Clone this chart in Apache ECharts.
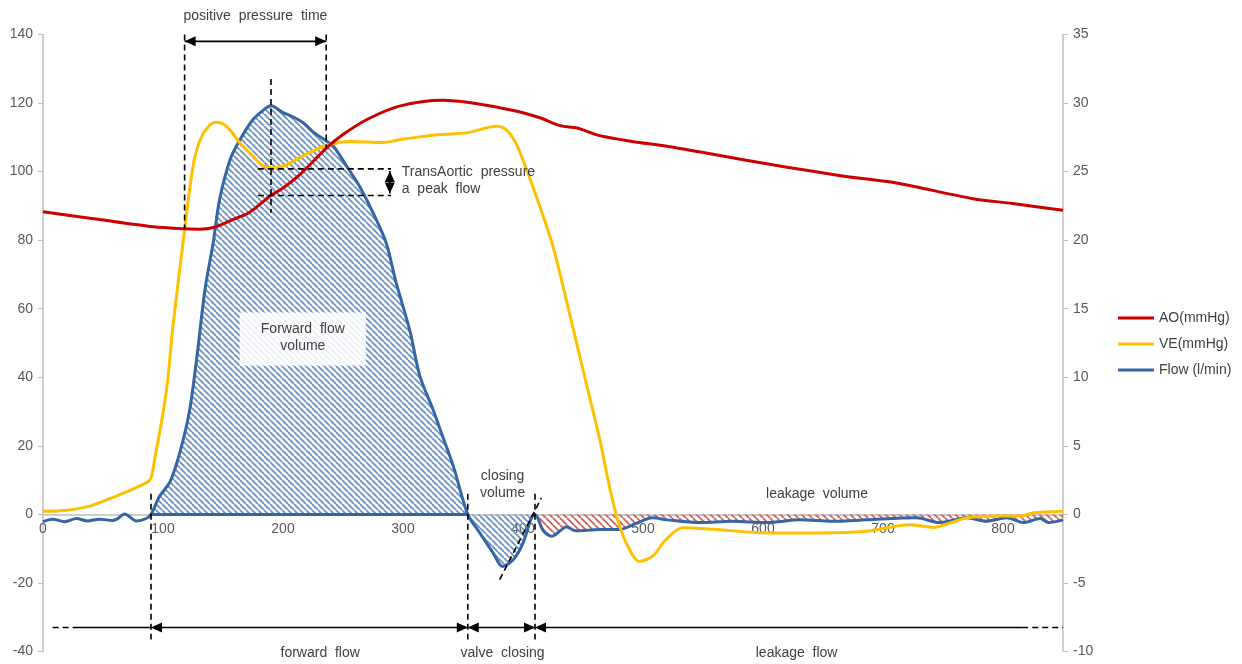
<!DOCTYPE html>
<html>
<head>
<meta charset="utf-8">
<script src="https://cdn.jsdelivr.net/npm/echarts@6/dist/echarts.min.js"></script>
<style>
  html, body { margin: 0; padding: 0; background: #fff; }
  #chart { width: 1242px; height: 664px; }
</style>
</head>
<body>
<div id="chart"></div>
<script>
// Aortic pressure (mmHg) over one cardiac cycle, time in ms
const aoTime = [0, 47, 89, 114, 118, 130, 142, 158, 172, 189, 200, 214, 236, 250, 270, 297, 333, 358, 395, 414, 431, 445, 464, 491, 520, 564, 608, 669, 711, 775, 808, 850];
const aoValues = [88.3, 86, 84, 83.4, 83.3, 83.2, 83.7, 86, 88.1, 92.8, 95.2, 99.1, 106.8, 110.8, 115.2, 119.1, 120.8, 120, 117.6, 115.7, 113.4, 112.7, 110.5, 108.8, 107.4, 104.7, 102, 98.6, 96.7, 92.1, 90.7, 88.7];

// Ventricular pressure (mmHg)
const veTime = [0, 20, 39, 47, 61, 86, 90, 93, 100, 104, 108, 118, 125, 131, 138, 144, 153, 164, 175, 183, 192, 203, 219, 236, 256, 283, 297, 331, 353, 378, 386, 394, 403, 414, 425, 436, 442, 456, 464, 472, 478, 486, 497, 508, 519, 533, 561, 603, 647, 686, 722, 742, 756, 770, 797, 814, 825, 850];
const veValues = [0.9, 1.2, 2.4, 3.4, 5.3, 9.2, 10.6, 16, 29.6, 39.3, 54, 83, 101.5, 109.3, 113.2, 114.4, 113.2, 108.4, 104.5, 101.8, 101.1, 102, 105, 107.6, 108.8, 108.5, 109.3, 110.8, 111.3, 113.2, 112.2, 108.4, 100.6, 89.9, 78.2, 62.7, 53.9, 33.5, 21.8, 8.2, -0.5, -8.3, -13.7, -12.2, -7.4, -3.9, -4.4, -5.4, -5.4, -4.9, -3, -3.8, -2.5, -1, -0.5, -0.5, 0.4, 0.9];

// Flow through the valve (l/min)
const flowTime = [0, 8, 18, 28, 37, 47, 58, 62, 68, 78, 86, 90, 97, 106, 114, 122, 128, 135, 142, 147, 156, 164, 175, 186, 190, 200, 208, 217, 225, 235, 242, 253, 264, 275, 286, 294, 306, 314, 325, 333, 342, 354, 364, 375, 383, 392, 400, 407, 410, 417, 424, 431, 436, 444, 464, 481, 492, 508, 520, 547, 575, 603, 631, 658, 686, 728, 747, 770, 786, 803, 817, 831, 838, 850];
const flowValues = [-0.53, -0.35, -0.53, -0.3, -0.48, -0.35, -0.45, -0.33, 0.03, -0.48, -0.3, 0, 1.3, 2.4, 4.5, 7.5, 11.3, 16.4, 19.9, 22.9, 25.9, 27.3, 28.8, 29.65, 29.8, 29.3, 29.0, 28.55, 27.9, 27.3, 26.85, 25.4, 23.9, 22.0, 19.8, 17.0, 13.3, 10.1, 7.65, 5.7, 3.5, 0, -1.35, -2.8, -3.8, -3.3, -2.1, -0.25, 0, -1.2, -1.6, -1.2, -0.9, -1.2, -1.1, -1.1, -0.75, -0.25, -0.4, -0.6, -0.5, -0.6, -0.4, -0.5, -0.4, -0.25, -0.6, -0.25, -0.5, -0.25, -0.6, -0.3, -0.6, -0.4];

// Valve events (ms): opening, closing start, closing end
const valveEvents = [90, 354, 410];

const seriesNames = ['AO(mmHg)', 'VE(mmHg)', 'Flow (l/min)'];
const seriesColors = ['#cc0000', '#ffc000', '#3465a4'];

const pair = (xs, ys) => xs.map((x, i) => [x, ys[i]]);
const flowData = pair(flowTime, flowValues);
const forwardPart = flowData.filter(d => d[0] >= valveEvents[0] && d[0] <= valveEvents[2]);
const leakagePart = flowData.filter(d => d[0] >= valveEvents[2]);

function interp(xs, ys, x) {
  for (let i = 1; i < xs.length; i++) {
    if (x <= xs[i]) {
      const t = (x - xs[i - 1]) / (xs[i] - xs[i - 1]);
      return ys[i - 1] + t * (ys[i] - ys[i - 1]);
    }
  }
  return ys[ys.length - 1];
}

function hatch(color, size, width) {
  const c = document.createElement('canvas');
  c.width = size; c.height = size;
  const g = c.getContext('2d');
  g.strokeStyle = color;
  g.lineWidth = width;
  g.beginPath();
  for (let k = -1; k <= 1; k++) {
    g.moveTo(k * size, 0);
    g.lineTo(k * size + size, size);
  }
  g.stroke();
  return { image: c, repeat: 'repeat' };
}

const chart = echarts.init(document.getElementById('chart'), null, { renderer: 'canvas' });
const FONT = 'Liberation Sans, Arial, sans-serif';
const axisGray = '#bfbfbf';
const SMOOTH = 0.3;

// layout of the plotting area
const GRID = { left: 43, right: 179, top: 34.5, bottom: 12.5 };
const Y_MIN = -40, Y_MAX = 140;
const plotH = 664 - GRID.top - GRID.bottom;
// lift the time axis from the bottom edge up to the zero line
const zeroLift = plotH * (0 - Y_MIN) / (Y_MAX - Y_MIN);

chart.setOption({
  animation: false,
  backgroundColor: '#fff',
  textStyle: { fontFamily: FONT },
  grid: Object.assign({ containLabel: false, outerBoundsMode: 'none' }, GRID),
  legend: {
    data: seriesNames,
    orient: 'vertical',
    left: 1113,
    top: 306,
    icon: 'rect',
    itemWidth: 36,
    itemHeight: 3,
    itemGap: 12,
    textStyle: { fontFamily: FONT, fontSize: 14, color: '#404040' }
  },
  xAxis: {
    type: 'value',
    min: 0, max: 850, interval: 100,
    position: 'bottom',
    offset: -zeroLift,
    axisLine: { onZero: false, lineStyle: { color: axisGray, width: 1.5 } },
    axisTick: { show: true, length: 3, lineStyle: { color: '#d0d0d0' } },
    splitLine: { show: false },
    axisLabel: { color: '#595959', fontSize: 14, margin: 8, fontFamily: FONT, showMaxLabel: false }
  },
  yAxis: [
    {
      type: 'value', min: Y_MIN, max: Y_MAX, interval: 20,
      axisLine: { show: true, onZero: false, lineStyle: { color: axisGray, width: 1.5 } },
      axisTick: { show: true, length: 5, lineStyle: { color: axisGray } },
      splitLine: { show: false },
      axisLabel: { color: '#595959', fontSize: 14, margin: 10, fontFamily: FONT }
    },
    {
      type: 'value', min: -10, max: 35, interval: 5,
      axisLine: { show: true, onZero: false, lineStyle: { color: axisGray, width: 1.5 } },
      axisTick: { show: true, length: 5, lineStyle: { color: axisGray } },
      splitLine: { show: false },
      axisLabel: { color: '#595959', fontSize: 14, margin: 10, fontFamily: FONT }
    }
  ],
  series: [
    {
      name: 'forward volume', type: 'line', yAxisIndex: 1, data: forwardPart,
      showSymbol: false, smooth: SMOOTH, silent: true, z: 1,
      lineStyle: { width: 0 },
      areaStyle: { color: hatch('#6890c9', 6, 1.7), opacity: 1 }
    },
    {
      name: 'leakage volume', type: 'line', yAxisIndex: 1, data: leakagePart,
      showSymbol: false, smooth: SMOOTH, silent: true, z: 1,
      lineStyle: { width: 0 },
      areaStyle: { color: hatch('#d0605c', 7, 1.8), opacity: 1 }
    },
    {
      name: seriesNames[2], type: 'line', yAxisIndex: 1, data: flowData,
      showSymbol: false, smooth: SMOOTH, z: 3,
      color: seriesColors[2],
      lineStyle: { width: 3, color: seriesColors[2] }
    },
    {
      name: seriesNames[1], type: 'line', yAxisIndex: 0, data: pair(veTime, veValues),
      showSymbol: false, smooth: SMOOTH, z: 4,
      color: seriesColors[1],
      lineStyle: { width: 3, color: seriesColors[1] }
    },
    {
      name: seriesNames[0], type: 'line', yAxisIndex: 0, data: pair(aoTime, aoValues),
      showSymbol: false, smooth: SMOOTH, z: 5,
      color: seriesColors[0],
      lineStyle: { width: 3, color: seriesColors[0] }
    }
  ]
});

// ---- annotations (placed in data coordinates of the pressure axis) ----
const P = (x, y) => chart.convertToPixel({ gridIndex: 0 }, [x, y]);
const dash = { stroke: '#000', lineWidth: 1.6, lineDash: [6, 4] };
const solid = { stroke: '#000', lineWidth: 1.6 };
const els = [];

function line(a, b, style, z) {
  els.push({ type: 'line', shape: { x1: a[0], y1: a[1], x2: b[0], y2: b[1] }, style: Object.assign({}, style), z: z || 100 });
}
function head(tip, dir) {
  // dir: 'l','r','u','d' -> direction the arrow points
  const L = 11, W = 5;
  const [x, y] = tip;
  let pts;
  if (dir === 'l') pts = [[x, y], [x + L, y - W], [x + L, y + W]];
  if (dir === 'r') pts = [[x, y], [x - L, y - W], [x - L, y + W]];
  if (dir === 'u') pts = [[x, y], [x - W, y + L], [x + W, y + L]];
  if (dir === 'd') pts = [[x, y], [x - W, y - L], [x + W, y - L]];
  els.push({ type: 'polygon', shape: { points: pts }, style: { fill: '#000' }, z: 101 });
}
function text(str, pos, align) {
  els.push({
    type: 'text', x: pos[0], y: pos[1], z: 102,
    style: { text: str, fill: '#404040', fontSize: 14, fontFamily: FONT, align: align || 'center', verticalAlign: 'middle' }
  });
}

// outline along the base of the forward flow area
line(P(valveEvents[0], 0), P(valveEvents[1], 0), { stroke: seriesColors[2], lineWidth: 3 }, 3);

// positive pressure time: where ventricular pressure exceeds aortic pressure
const ppStart = 118, ppEnd = 236;
line(P(ppStart, 140), P(ppStart, interp(aoTime, aoValues, ppStart)), dash);
line(P(ppEnd, 140), P(ppEnd, interp(aoTime, aoValues, ppEnd)), dash);
line(P(ppStart, 138), P(ppEnd, 138), solid);
head(P(ppStart, 138), 'l');
head(P(ppEnd, 138), 'r');
text('positive  pressure  time', [(P(ppStart, 0)[0] + P(ppEnd, 0)[0]) / 2, 16]);

// transaortic pressure at peak flow
let peakIdx = 0;
flowValues.forEach((v, i) => { if (v > flowValues[peakIdx]) peakIdx = i; });
const peakX = flowTime[peakIdx];
const veAtPeak = 100.8, aoAtPeak = interp(aoTime, aoValues, peakX);
line(P(peakX, 127), P(peakX, 88), dash);
line(P(179, veAtPeak), P(290, veAtPeak), dash);
line(P(179, aoAtPeak), P(290, aoAtPeak), dash);
const arrX = 289;
line(P(arrX, veAtPeak - 0.6), P(arrX, aoAtPeak + 0.6), solid);
head(P(arrX, veAtPeak - 0.6), 'u');
head(P(arrX, aoAtPeak + 0.6), 'd');
text('TransAortic  pressure', [P(299, 0)[0], 172], 'left');
text('a  peak  flow', [P(299, 0)[0], 189], 'left');

// forward flow volume label box
const b1 = P(164, 58.9), b2 = P(269, 43.4);
els.push({ type: 'rect', shape: { x: b1[0], y: b1[1], width: b2[0] - b1[0], height: b2[1] - b1[1] },
  style: { fill: 'rgba(255,255,255,0.88)' }, z: 99 });
text('Forward  flow', [(b1[0] + b2[0]) / 2, 329]);
text('volume', [(b1[0] + b2[0]) / 2, 346]);

// closing volume
const cMid = (valveEvents[1] + valveEvents[2]) / 2 + 1;
text('closing', [P(cMid, 0)[0], 476]);
text('volume', [P(cMid, 0)[0], 493]);
line(P(380.6, -19), P(415.3, 4.8), dash);

// leakage volume
text('leakage  volume', [P(645, 0)[0], 494]);

// valve event markers and phase arrows
valveEvents.forEach(t => line(P(t, 6), P(t, -36.5), dash));
const yArr = -33;
line(P(8, yArr), P(25, yArr), dash);
line(P(25, yArr), P(816, yArr), solid);
line(P(816, yArr), P(850, yArr), dash);
head(P(valveEvents[0], yArr), 'l');
head(P(valveEvents[1], yArr), 'r');
head(P(valveEvents[1], yArr), 'l');
head(P(valveEvents[2], yArr), 'r');
head(P(valveEvents[2], yArr), 'l');
text('forward  flow', [P(231, 0)[0], 653]);
text('valve  closing', [P(cMid, 0)[0], 653]);
text('leakage  flow', [P(628, 0)[0], 653]);

chart.setOption({ graphic: { elements: els } });
</script>
</body>
</html>
